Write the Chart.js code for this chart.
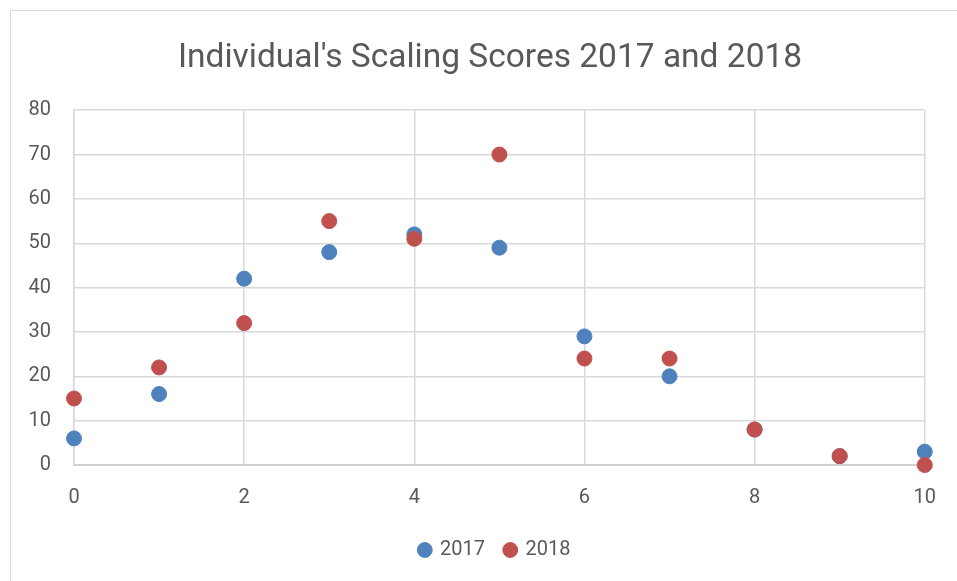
<!DOCTYPE html>
<html>
<head>
<meta charset="utf-8">
<script src="https://cdn.jsdelivr.net/npm/chart.js@4.4.0/dist/chart.umd.min.js"></script>
<style>
  html, body { margin: 0; padding: 0; background: #fff; }
  #wrap { position: relative; width: 957px; height: 581px; overflow: hidden; }
  #frame { position: absolute; left: 10px; top: 10px; width: 960px; height: 600px; border: 1px solid #d9d9d9; box-sizing: border-box; }
  canvas { position: absolute; left: 0; top: 0; }
</style>
</head>
<body>
<div id="wrap">
  <div id="frame"></div>
  <canvas id="chart" width="957" height="581"></canvas>
</div>
<script>
// valores
const xValues = [0, 1, 2, 3, 4, 5, 6, 7, 8, 9, 10];
const scores2017 = [6, 16, 42, 48, 52, 49, 29, 20, 8, 2, 3];
const scores2018 = [15, 22, 32, 55, 51, 70, 24, 24, 8, 2, 0];

const fonte = "'Roboto', sans-serif";
const cinza = '#595959';

function toPoints(values) {
    return xValues.map((x, i) => ({ x: x, y: values[i] }));
}

// o título e a legenda ficam centrados no quadro, não na área útil do canvas
const centrarNoQuadro = {
    id: 'centrarNoQuadro',
    afterLayout(chart) {
        chart.titleBlock.left += 16;
        chart.titleBlock.right += 16;
        chart.legend.left += 21;
        chart.legend.right += 21;
    }
};

new Chart(document.getElementById('chart').getContext('2d'), {
    type: 'scatter',
    data: {
        datasets: [{
            label: '2017',
            data: toPoints(scores2017),
            backgroundColor: '#4f81bd',
            borderColor: '#4f81bd',
            pointRadius: 7.5,
            pointHoverRadius: 7.5,
            clip: false,
            order: 1
        }, {
            label: '2018',
            data: toPoints(scores2018),
            backgroundColor: '#c0504d',
            borderColor: '#c0504d',
            pointRadius: 7.5,
            pointHoverRadius: 7.5,
            clip: false,
            order: 0   // 2018 fica por cima, como no original
        }]
    },
    plugins: [centrarNoQuadro],
    options: {
        responsive: false,
        animation: false,
        layout: { padding: { left: 20, right: 29, top: 0, bottom: 11 } },
        plugins: {
            title: {
                display: true,
                text: "Individual's Scaling Scores 2017 and 2018",
                color: cinza,
                font: { family: fonte, size: 33.5, weight: 'normal' },
                padding: { top: 39, bottom: 31 }
            },
            legend: {
                position: 'bottom',
                labels: {
                    usePointStyle: true,
                    pointStyle: 'circle',
                    boxWidth: 10.5,
                    boxHeight: 10.5,
                    color: cinza,
                    font: { family: fonte, size: 20 },
                    padding: 20,
                    sort: (a, b) => a.datasetIndex - b.datasetIndex
                }
            },
            tooltip: { enabled: false }
        },
        scales: {
            x: {
                type: 'linear',
                min: 0,
                max: 10,
                ticks: { stepSize: 2, color: cinza, font: { family: fonte, size: 20 }, padding: 21 },
                grid: { color: '#d9d9d9', lineWidth: 1.5, drawTicks: false },
                border: { color: '#d0d0d0', width: 2 },
                afterFit: function (scale) { scale.height = 55; }
            },
            y: {
                min: 0,
                max: 80,
                ticks: { stepSize: 10, color: cinza, font: { family: fonte, size: 20 }, padding: 23 },
                grid: { color: '#d9d9d9', lineWidth: 1.5, drawTicks: false },
                border: { color: '#d9d9d9', width: 1.5 },
                afterFit: function (scale) { scale.width = 54; }
            }
        }
    }
});
</script>
</body>
</html>
